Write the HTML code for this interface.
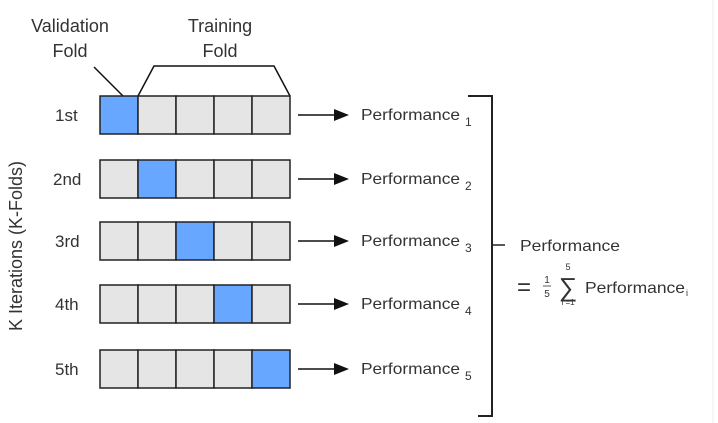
<!DOCTYPE html>
<html><head><meta charset="utf-8"><style>
html,body{margin:0;padding:0;background:#fff;}
svg{display:block;}
text{font-family:"Liberation Sans",sans-serif;fill:#333;}
</style></head><body>
<svg width="718" height="423" viewBox="0 0 718 423" xmlns="http://www.w3.org/2000/svg">
<line x1="713" y1="0" x2="713" y2="423" stroke="#eee" stroke-width="1"/>
<text x="70" y="32" font-size="18" text-anchor="middle">Validation</text>
<text x="70" y="57" font-size="18" text-anchor="middle">Fold</text>
<text x="220" y="32" font-size="18" text-anchor="middle">Training</text>
<text x="220" y="57" font-size="18" text-anchor="middle">Fold</text>
<line x1="94" y1="67" x2="123" y2="96" stroke="#111" stroke-width="1.5"/>
<polyline points="138,96 154,66 274,66 290,96" fill="none" stroke="#111" stroke-width="1.5"/>
<text transform="translate(22,246) rotate(-90)" font-size="18" text-anchor="middle">K Iterations (K-Folds)</text>
<g stroke="#222" stroke-width="1.5">
<g transform="translate(0,96)">
<rect x="100" y="0" width="38" height="38" fill="#68a7ff"/><rect x="138" y="0" width="38" height="38" fill="#e5e5e5"/><rect x="176" y="0" width="38" height="38" fill="#e5e5e5"/><rect x="214" y="0" width="38" height="38" fill="#e5e5e5"/><rect x="252" y="0" width="38" height="38" fill="#e5e5e5"/>
</g>
<g transform="translate(0,160)">
<rect x="100" y="0" width="38" height="38" fill="#e5e5e5"/><rect x="138" y="0" width="38" height="38" fill="#68a7ff"/><rect x="176" y="0" width="38" height="38" fill="#e5e5e5"/><rect x="214" y="0" width="38" height="38" fill="#e5e5e5"/><rect x="252" y="0" width="38" height="38" fill="#e5e5e5"/>
</g>
<g transform="translate(0,222)">
<rect x="100" y="0" width="38" height="38" fill="#e5e5e5"/><rect x="138" y="0" width="38" height="38" fill="#e5e5e5"/><rect x="176" y="0" width="38" height="38" fill="#68a7ff"/><rect x="214" y="0" width="38" height="38" fill="#e5e5e5"/><rect x="252" y="0" width="38" height="38" fill="#e5e5e5"/>
</g>
<g transform="translate(0,285)">
<rect x="100" y="0" width="38" height="38" fill="#e5e5e5"/><rect x="138" y="0" width="38" height="38" fill="#e5e5e5"/><rect x="176" y="0" width="38" height="38" fill="#e5e5e5"/><rect x="214" y="0" width="38" height="38" fill="#68a7ff"/><rect x="252" y="0" width="38" height="38" fill="#e5e5e5"/>
</g>
<g transform="translate(0,350)">
<rect x="100" y="0" width="38" height="38" fill="#e5e5e5"/><rect x="138" y="0" width="38" height="38" fill="#e5e5e5"/><rect x="176" y="0" width="38" height="38" fill="#e5e5e5"/><rect x="214" y="0" width="38" height="38" fill="#e5e5e5"/><rect x="252" y="0" width="38" height="38" fill="#68a7ff"/>
</g>
</g>
<g font-size="17">
<text x="55" y="121">1st</text>
<text x="53" y="185">2nd</text>
<text x="55" y="247">3rd</text>
<text x="55" y="310">4th</text>
<text x="55" y="375">5th</text>
</g>
<g stroke="#111" stroke-width="1.5">
<line x1="298" y1="115" x2="336" y2="115"/><line x1="298" y1="179" x2="336" y2="179"/><line x1="298" y1="241" x2="336" y2="241"/><line x1="298" y1="304" x2="336" y2="304"/><line x1="298" y1="369" x2="336" y2="369"/>
</g>
<g fill="#111">
<polygon points="334,109 349,115 334,121"/><polygon points="334,173 349,179 334,185"/><polygon points="334,235 349,241 334,247"/><polygon points="334,298 349,304 334,310"/><polygon points="334,363 349,369 334,375"/>
</g>
<g font-size="16">
<text x="361" y="120" textLength="99" lengthAdjust="spacingAndGlyphs">Performance</text><text x="465" y="126" font-size="12">1</text>
<text x="361" y="184" textLength="99" lengthAdjust="spacingAndGlyphs">Performance</text><text x="465" y="190" font-size="12">2</text>
<text x="361" y="246" textLength="99" lengthAdjust="spacingAndGlyphs">Performance</text><text x="465" y="252" font-size="12">3</text>
<text x="361" y="309" textLength="99" lengthAdjust="spacingAndGlyphs">Performance</text><text x="465" y="315" font-size="12">4</text>
<text x="361" y="374" textLength="99" lengthAdjust="spacingAndGlyphs">Performance</text><text x="465" y="380" font-size="12">5</text>
</g>
<polyline points="468,96 492,96 492,416 478,416" fill="none" stroke="#222" stroke-width="2"/>
<line x1="492" y1="245" x2="505" y2="245" stroke="#222" stroke-width="1.5"/>
<text x="520" y="251" font-size="16" textLength="100" lengthAdjust="spacingAndGlyphs">Performance</text>
<text x="517" y="295" font-size="24">=</text>
<text x="547" y="283" font-size="10" text-anchor="middle">1</text>
<line x1="543" y1="286" x2="551" y2="286" stroke="#333" stroke-width="0.8"/>
<text x="547" y="297" font-size="10" text-anchor="middle">5</text>
<text x="568" y="270" font-size="9" text-anchor="middle">5</text>
<text x="568" y="296" font-size="26" text-anchor="middle">∑</text>
<text x="568" y="305" font-size="8" text-anchor="middle">i =1</text>
<text x="585" y="293" font-size="16" textLength="100" lengthAdjust="spacingAndGlyphs">Performance</text><text x="686" y="296" font-size="9">i</text>
</svg>
</body></html>
